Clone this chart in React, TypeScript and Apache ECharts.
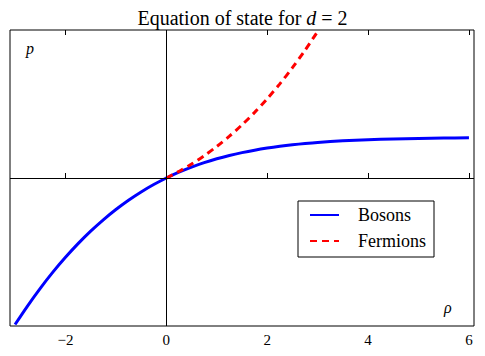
import React, { useEffect, useRef } from "react";
import * as echarts from "echarts";

const rhoBosons = [-3, -2.75, -2.5, -2.25, -2, -1.75, -1.5, -1.25, -1, -0.75, -0.5, -0.25, 0, 0.25, 0.5, 0.75, 1, 1.25, 1.5, 1.75, 2, 2.25, 2.5, 2.75, 3, 3.5, 4, 4.5, 5, 5.5, 6];
const pBosons = [-5.941, -5.18, -4.472, -3.817, -3.214, -2.66, -2.154, -1.694, -1.278, -0.902, -0.566, -0.266, 0, 0.235, 0.441, 0.621, 0.778, 0.913, 1.029, 1.129, 1.214, 1.286, 1.347, 1.398, 1.441, 1.507, 1.553, 1.584, 1.604, 1.618, 1.628];
const rhoFermions = [0, 0.25, 0.5, 0.75, 1, 1.25, 1.5, 1.75, 2, 2.25, 2.5, 2.75, 3];
const pFermions = [0, 0.266, 0.566, 0.902, 1.278, 1.694, 2.154, 2.66, 3.214, 3.817, 4.472, 5.18, 5.941];
const xTicks = [-2, 0, 2, 4, 6];

const FONT = "'Liberation Serif', 'Times New Roman', serif";

export default function App() {
  const ref = useRef<HTMLDivElement>(null);
  useEffect(() => {
    if (!ref.current) return;
    const chart = echarts.init(ref.current, undefined, { renderer: "svg" });
    const fmt = (v: number) => (v < 0 ? "\u2212" + Math.abs(v) : String(v));
    chart.setOption({
      animation: false,
      backgroundColor: "#fff",
      textStyle: { fontFamily: FONT },
      title: {
        text: "Equation of state for {i|d} = 2",
        left: "center",
        top: 3,
        textStyle: {
          fontFamily: FONT,
          fontSize: 20,
          fontWeight: "normal",
          color: "#000",
          rich: {
            i: { fontFamily: FONT, fontSize: 20, fontStyle: "italic", color: "#000" },
          },
        },
      },
      grid: {
        left: 10,
        right: 11,
        top: 30,
        bottom: 30,
        show: true,
        borderColor: "#000",
        borderWidth: 1,
        containLabel: false,
        outerBoundsMode: "none",
      },
      legend: {
        orient: "vertical",
        left: 298,
        top: 201,
        itemWidth: 29,
        itemHeight: 14,
        itemGap: 8,
        padding: [5, 8, 7, 11],
        borderColor: "#000",
        borderWidth: 1,
        borderRadius: 0,
        backgroundColor: "#fff",
        itemStyle: { opacity: 0 },
        textStyle: { fontFamily: FONT, fontSize: 18, color: "#000", padding: [0, 0, 0, 14] },
        data: ["Bosons", "Fermions"],
      },
      xAxis: [
        {
          type: "value",
          position: "bottom",
          min: -3.1,
          max: 6.1,
          axisLine: { show: false },
          splitLine: { show: false },
          axisTick: { show: true, inside: true, length: 5, customValues: xTicks, lineStyle: { color: "#000", width: 1 } },
          axisLabel: { show: true, customValues: xTicks, formatter: fmt, margin: 6, fontFamily: FONT, fontSize: 15, color: "#000" },
        },
        {
          type: "value",
          position: "top",
          min: -3.1,
          max: 6.1,
          axisLine: { show: false },
          splitLine: { show: false },
          axisTick: { show: true, inside: true, length: 5, customValues: xTicks, lineStyle: { color: "#000", width: 1 } },
          axisLabel: { show: false },
        },
      ],
      yAxis: {
        type: "value",
        min: -6,
        max: 6,
        axisLine: { show: false },
        axisTick: { show: false },
        axisLabel: { show: false },
        splitLine: { show: false },
      },
      graphic: [
        { type: "text", x: 26, y: 48, style: { text: "p", fontFamily: FONT, fontSize: 16, fontStyle: "italic", fill: "#000", verticalAlign: "middle" } },
        { type: "text", x: 444, y: 307, style: { text: "\u03c1", fontFamily: FONT, fontSize: 16, fontStyle: "italic", fill: "#000", verticalAlign: "middle" } },
      ],
      series: [
        {
          type: "line",
          name: "axes",
          data: [],
          z: 1,
          markLine: {
            silent: true,
            symbol: ["none", "none"],
            label: { show: false },
            lineStyle: { color: "#000", width: 1, type: "solid" },
            data: [{ yAxis: 0 }, { xAxis: 0 }],
          },
        },
        {
          type: "line",
          name: "Bosons",
          data: rhoBosons.map((r, i) => [r, pBosons[i]]),
          showSymbol: false,
          symbol: "none",
          smooth: 0.3,
          z: 3,
          lineStyle: { color: "#0000ff", width: 3 },
          itemStyle: { color: "#0000ff" },
        },
        {
          type: "line",
          name: "Fermions",
          data: rhoFermions.map((r, i) => [r, pFermions[i]]),
          showSymbol: false,
          symbol: "none",
          smooth: 0.3,
          z: 4,
          lineStyle: { color: "#ff0000", width: 3, type: [7, 5] },
          itemStyle: { color: "#ff0000" },
        },
      ],
    });
    return () => chart.dispose();
  }, []);
  return <div ref={ref} style={{ width: 485, height: 356, position: "absolute", left: 0, top: 0 }} />;
}
